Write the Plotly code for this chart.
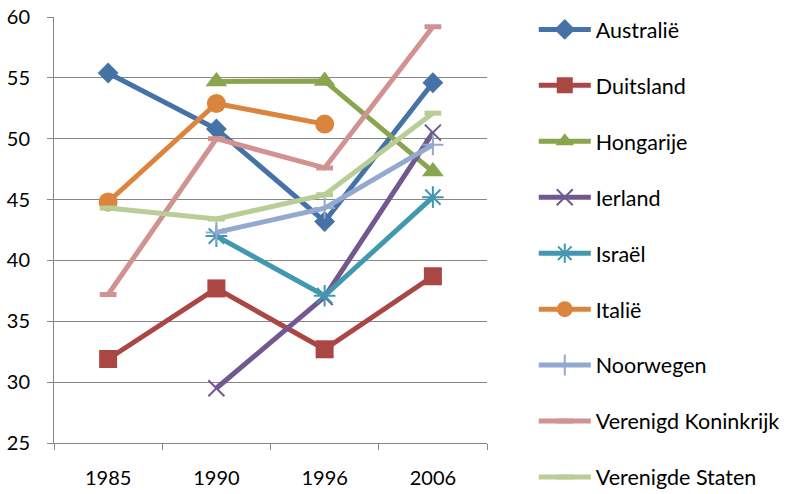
import plotly.graph_objects as go

years = ["1985", "1990", "1996", "2006"]
australie = [55.4, 50.8, 43.2, 54.6]
duitsland = [31.9, 37.7, 32.7, 38.7]
hongarije = [None, 54.7, 54.75, 47.3]
ierland = [None, 29.5, 37.0, 50.5]
israel = [None, 42.0, 37.1, 45.2]
italie = [44.8, 52.9, 51.2, None]
noorwegen = [None, 42.3, 44.3, 49.5]
vk = [37.2, 50.0, 47.6, 59.2]
vs = [44.3, 43.4, 45.4, 52.1]

series = [
    ("Australië", australie, "#4572A7", "diamond", 16, 0, None),
    ("Duitsland", duitsland, "#AA4643", "square", 18, 0, None),
    ("Hongarije", hongarije, "#89A54E", "triangle-up", 19, 0, None),
    ("Ierland", ierland, "#71588F", "x-thin", 16, 2, "#71588F"),
    ("Israël", israel, "#4198AF", "asterisk", 18, 2, "#4198AF"),
    ("Italië", italie, "#DB843D", "circle", 19, 0, None),
    ("Noorwegen", noorwegen, "#93A9CF", "cross-thin", 15, 2, "#93A9CF"),
    ("Verenigd Koninkrijk", vk, "#D19392", "line-ew", 12, 5, "#D19392"),
    ("Verenigde Staten", vs, "#B9CD96", "line-ew", 12, 5, "#B9CD96"),
]

fig = go.Figure()
for i, (name, vals, col, sym, sz, lw, lc) in enumerate(series):
    marker = dict(symbol=sym, size=sz, color=col)
    if lc:
        marker["line"] = dict(color=lc, width=lw)
    fig.add_trace(go.Scatter(
        x=years, y=vals, name=name, mode="lines+markers",
        line=dict(color=col, width=5),
        marker=marker, legendgroup=f"g{i}",
        connectgaps=False,
    ))

fig.update_layout(
    width=790, height=494,
    margin=dict(l=54, r=303, t=17, b=51, autoexpand=False),
    paper_bgcolor="white", plot_bgcolor="white",
    font=dict(family="Lato, Open Sans, sans-serif", size=20, color="black"),
    legend=dict(x=1.108, y=1.019, xanchor="left", yanchor="top",
                font=dict(size=21.5), tracegroupgap=25, itemwidth=52,
                bgcolor="rgba(0,0,0,0)", maxheight=1),
    showlegend=True,
)
fig.update_xaxes(
    type="category", showgrid=False, showline=True, linecolor="#868686",
    linewidth=1, ticks="outside", tickson="boundaries", ticklen=6,
    tickcolor="#868686", tickfont=dict(size=20), range=[-0.5, 3.5],
    automargin=False, ticklabelstandoff=17,
)
fig.update_yaxes(
    range=[25, 60], dtick=5, showgrid=True, gridcolor="#868686", gridwidth=1,
    showline=True, linecolor="#868686", linewidth=1, ticks="outside",
    ticklen=6, tickcolor="#868686", tickfont=dict(size=20), zeroline=False,
    automargin=False, ticklabelstandoff=13,
)

fig.write_html("out.html", config={"displayModeBar": False},
               post_script="document.body.style.margin='0';")
